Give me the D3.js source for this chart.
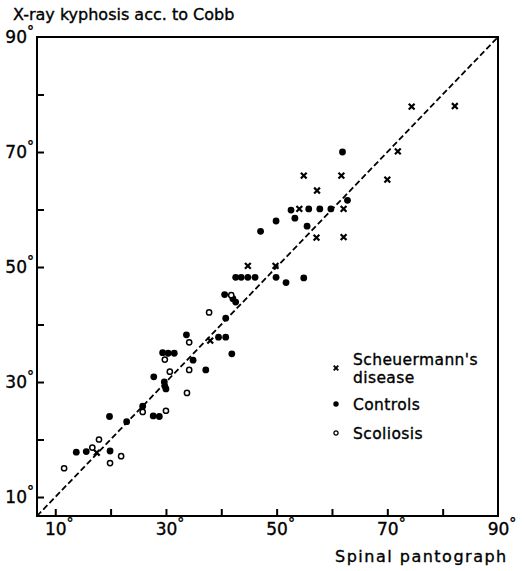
<!DOCTYPE html>
<html lang="en">
<head>
<meta charset="UTF-8">
<title>Kyphosis</title>
<script src="https://d3js.org/d3.v7.min.js"></script>
<style>
body{margin:0;background:#fff;}
svg text{font-family:"DejaVu Sans",sans-serif;fill:#000;stroke:#000;stroke-width:0.35px;}
</style>
</head>
<body>
<div id="chart"></div>
<script>
// [spinal pantograph, x-ray cobb] in degrees
var scheuermann = [
	[74.4,77.9],[82.2,78.0],[71.9,70.1],[70.0,65.2],[54.9,65.9],[61.7,65.9],
	[57.3,63.3],[54.1,60.1],[62.1,60.1],[57.2,55.1],[62.1,55.2],[44.8,50.2],
	[49.8,50.2],[38.0,37.2],[17.5,17.7]
];
var controls = [
	[61.9,70.0],[62.8,61.6],[52.6,59.9],[55.8,60.1],[57.8,60.1],[59.8,60.1],
	[53.3,58.5],[49.9,58.0],[55.5,57.1],[47.1,56.2],[42.6,48.2],[43.6,48.2],
	[44.8,48.2],[46.1,48.2],[49.9,48.2],[51.7,47.3],[54.9,48.1],[40.6,45.2],
	[42.1,44.5],[42.6,43.9],[40.8,41.1],[39.5,37.8],[40.8,37.8],[33.7,38.2],
	[41.9,34.9],[29.4,35.1],[30.4,35.0],[31.5,35.0],[34.9,33.8],[37.2,32.1],
	[27.8,30.9],[29.7,30.0],[29.8,29.3],[30.0,28.8],[25.8,25.8],[27.7,24.1],
	[28.8,24.0],[19.8,24.0],[22.9,23.1],[13.8,17.8],[15.6,17.9],[19.9,18.0]
];
var scoliosis = [
	[37.8,42.1],[41.8,45.1],[34.2,36.9],[29.8,33.9],[30.7,31.8],[34.2,32.1],
	[33.8,28.1],[25.8,24.8],[30.0,25.0],[17.9,20.0],[16.7,18.6],[19.9,15.9],
	[21.9,17.1],[11.6,15.0]
];
var tickValues = [10,20,30,40,50,60,70,80];
var labelValues = [10,30,50,70,90];
var legendLabels = [["Scheuermann's","disease"],["Controls"],["Scoliosis"]];

var width = 525, height = 571;
var box = {left:37, right:498, top:37, bottom:516};
var svg = d3.select("#chart").append("svg")
	.attr("width", width).attr("height", height);

var x = d3.scaleLinear().domain([6.7, 90]).range([box.left, box.right]);
var y = d3.scaleLinear().domain([6.7, 90]).range([box.bottom, box.top]);

// frame
svg.append("rect")
	.attr("x", box.left).attr("y", box.top)
	.attr("width", box.right - box.left).attr("height", box.bottom - box.top)
	.attr("fill", "none").attr("stroke", "#000").attr("stroke-width", 2);

// ticks (inward)
var xAxis = d3.axisBottom(x).tickValues(tickValues).tickSize(-7).tickFormat("");
svg.append("g").attr("transform", "translate(0," + box.bottom + ")").call(xAxis)
	.call(g => g.select(".domain").remove())
	.selectAll("line").attr("stroke-width", 2);
var yAxis = d3.axisLeft(y).tickValues(tickValues).tickSize(-7).tickFormat("");
svg.append("g").attr("transform", "translate(" + box.left + ",0)").call(yAxis)
	.call(g => g.select(".domain").remove())
	.selectAll("line").attr("stroke-width", 2);

function degLabel(sel) {
	sel.text(d => d).append("tspan")
		.attr("font-size", "14px").attr("dy", "-0.5em").text("°");
}

svg.append("g").selectAll("text").data(labelValues).enter().append("text")
	.attr("x", d => x(d)).attr("y", box.bottom + 19)
	.attr("font-size", "17px").attr("text-anchor", "middle")
	.attr("dx", "4px")
	.call(degLabel);

svg.append("g").selectAll("text").data(labelValues).enter().append("text")
	.attr("x", box.left - 3).attr("y", d => y(d) + 6)
	.attr("font-size", "17px").attr("text-anchor", "end")
	.call(degLabel);

// titles
svg.append("text").attr("x", 13).attr("y", 20).attr("font-size", "16px")
	.text("X-ray kyphosis acc. to Cobb");
svg.append("text").attr("x", 335).attr("y", 562).attr("font-size", "16px")
	.attr("letter-spacing", "1.5px")
	.text("Spinal pantograph");

// identity line
svg.append("line")
	.attr("x1", x(6.7)).attr("y1", y(6.7)).attr("x2", x(90)).attr("y2", y(90))
	.attr("stroke", "#000").attr("stroke-width", 1.8).attr("stroke-dasharray", "6,3");

function cross(g, s, w) {
	g.append("path").attr("d", "M" + (-s) + "," + (-s) + "L" + s + "," + s + "M" + (-s) + "," + s + "L" + s + "," + (-s))
		.attr("stroke", "#000").attr("stroke-width", w).attr("fill", "none");
}

svg.append("g").selectAll("g").data(scheuermann).enter().append("g")
	.attr("transform", d => "translate(" + x(d[0]) + "," + y(d[1]) + ")")
	.each(function() { cross(d3.select(this), 2.9, 2.2); });

svg.append("g").selectAll("circle").data(controls).enter().append("circle")
	.attr("cx", d => x(d[0])).attr("cy", d => y(d[1])).attr("r", 3.4)
	.attr("fill", "#000");

svg.append("g").selectAll("circle").data(scoliosis).enter().append("circle")
	.attr("cx", d => x(d[0])).attr("cy", d => y(d[1])).attr("r", 2.6)
	.attr("fill", "#fff").attr("stroke", "#000").attr("stroke-width", 1.5);

// legend
var legendY = [369, 405, 434];
var legend = svg.append("g");
legendLabels.forEach(function(lines, i) {
	var cy = legendY[i];
	lines.forEach(function(l, j) {
		legend.append("text").attr("x", 353)
			.attr("y", cy + 5 - (lines.length - 1) * 9.3 + j * 18.6)
			.attr("font-size", "15.5px").attr("letter-spacing", "0.4px")
			.text(l);
	});
	var m = legend.append("g").attr("transform", "translate(336," + (cy - 1) + ")");
	if (i == 0) cross(m, 2.3, 1.9);
	else if (i == 1) m.append("circle").attr("r", 2.7).attr("fill", "#000");
	else m.append("circle").attr("r", 2.1).attr("fill", "#fff").attr("stroke", "#000").attr("stroke-width", 1.3);
});
</script>
</body>
</html>
